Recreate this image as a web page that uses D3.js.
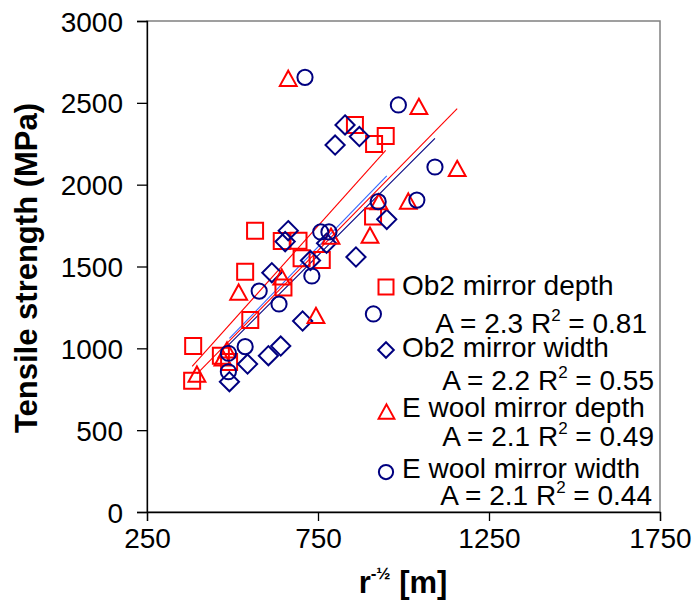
<!DOCTYPE html>
<html>
<head>
<meta charset="utf-8">
<script src="https://cdn.jsdelivr.net/npm/d3@7"></script>
<style>
  html, body { margin: 0; padding: 0; background: #fff; }
  svg { display: block; font-family: "Liberation Sans", Arial, sans-serif; }
</style>
</head>
<body>
<svg id="chart" width="695" height="601"></svg>
<script>
// ---------------- data ----------------
const seriesNames = ["Ob2 mirror depth", "Ob2 mirror width", "E wool mirror depth", "E wool mirror width"];
const seriesA = ["2.3", "2.2", "2.1", "2.1"];
const seriesR2 = ["0.81", "0.55", "0.49", "0.44"];
// slope of trend lines y = A * x
const trendSlope = [2.33, 2.16, 2.13, 2.09];

const ob2DepthX = [385, 382, 466, 490, 552, 537, 566, 649, 644, 693, 702, 761, 858, 948, 914, 911];
const ob2DepthY = [1014, 802, 955, 917, 1173, 1468, 1719, 1372, 1656, 1658, 1550, 1540, 2365, 2297, 2248, 1806];

const ob2WidthX = [491, 544, 605, 641, 705, 615, 663, 654, 728, 775, 861, 951, 829, 871, 800];
const ob2WidthY = [796, 904, 955, 1014, 1167, 1462, 1719, 1652, 1537, 1642, 1558, 1788, 2365, 2294, 2242];

const eDepthX = [396, 484, 472, 518, 644, 744, 663, 788, 902, 928, 1014, 1045, 1157];
const eDepthY = [843, 990, 941, 1344, 1436, 1201, 2650, 1686, 1692, 1896, 1900, 2478, 2100];

const eWidthX = [488, 488, 537, 578, 636, 732, 758, 782, 712, 926, 1039, 1092, 985, 912];
const eWidthY = [970, 857, 1010, 1350, 1271, 1442, 1711, 1711, 2656, 1896, 1906, 2108, 2487, 1210];

const xTicks = [250, 750, 1250, 1750];
const yTicks = [0, 500, 1000, 1500, 2000, 2500, 3000];

// ---------------- layout ----------------
const svg = d3.select("#chart");
const L = 147, R = 660, T = 21, B = 512;
const x = d3.scaleLinear().domain([250, 1750]).range([L, R]);
const y = d3.scaleLinear().domain([0, 3000]).range([B, T]);

const RED = "#ff0000", NAVY = "#000080", BLUE = "#3366ff";
const seriesX = [ob2DepthX, ob2WidthX, eDepthX, eWidthX];
const seriesY = [ob2DepthY, ob2WidthY, eDepthY, eWidthY];
const markerColor = [RED, NAVY, RED, NAVY];
const lineColor = [RED, BLUE, RED, NAVY];
const shapes = ["square", "diamond", "triangle", "circle"];

function shapePath(shape, s) {
  const h = s / 2;
  if (shape === "square") return `M${-h},${-h}H${h}V${h}H${-h}Z`;
  if (shape === "diamond") { const d = h * 1.2; return `M0,${-d}L${d},0L0,${d}L${-d},0Z`; }
  if (shape === "triangle") { const w = h * 1.05, ht = h * 0.95; return `M0,${-ht}L${w},${ht}L${-w},${ht}Z`; }
  if (shape === "circle") { const r = h * 0.95; return `M${r},0A${r},${r} 0 1,1 ${-r},0A${r},${r} 0 1,1 ${r},0Z`; }
}

// plot border (gray)
svg.append("rect").attr("x", L).attr("y", T).attr("width", R - L).attr("height", B - T)
  .attr("fill", "none").attr("stroke", "#808080").attr("stroke-width", 1.5);

// axes
const xAxis = d3.axisBottom(x).tickValues(xTicks).tickSize(9).tickPadding(27).tickFormat(d3.format("d"));
const yAxis = d3.axisLeft(y).tickValues(yTicks).tickSize(10).tickPadding(14).tickFormat(d3.format("d"));

const gx = svg.append("g").attr("transform", `translate(0,${B})`).call(xAxis);
const gy = svg.append("g").attr("transform", `translate(${L},0)`).call(yAxis);
[gx, gy].forEach(g => {
  g.select(".domain").attr("stroke", "#000").attr("stroke-width", 1.3);
  g.selectAll(".tick line").attr("stroke", "#000").attr("stroke-width", 1.3);
  g.selectAll(".tick text").attr("fill", "#000").attr("font-size", 28)
    .attr("font-family", '"Liberation Sans", Arial, sans-serif');
});
gx.selectAll(".tick text").attr("dy", "0");
gy.selectAll(".tick text").attr("dy", "0.36em");

// trend lines
const trend = svg.append("g");
seriesX.forEach((xs, i) => {
  const [x0, x1] = d3.extent(xs);
  trend.append("line")
    .attr("x1", x(x0)).attr("y1", y(trendSlope[i] * x0))
    .attr("x2", x(x1)).attr("y2", y(trendSlope[i] * x1))
    .attr("stroke", lineColor[i]).attr("stroke-width", 1.1);
});

// markers
seriesX.forEach((xs, i) => {
  svg.append("g").selectAll("path").data(xs.map((v, k) => [v, seriesY[i][k]])).join("path")
    .attr("transform", d => `translate(${x(d[0])},${y(d[1])})`)
    .attr("d", shapePath(shapes[i], 16))
    .attr("fill", "none").attr("stroke", markerColor[i]).attr("stroke-width", 2);
});

// legend
const legMarker = [[386, 287], [386, 350], [386.5, 411.5], [386, 472]];
const legNameY = [295, 357, 417, 478];
const legEqX = [647, 654, 654, 652];
const legEqY = [333, 390, 446, 505];
const leg = svg.append("g");
seriesNames.forEach((name, i) => {
  leg.append("path")
    .attr("transform", `translate(${legMarker[i][0]},${legMarker[i][1]})`)
    .attr("d", shapePath(shapes[i], i === 1 ? 13 : 15))
    .attr("fill", "none").attr("stroke", markerColor[i]).attr("stroke-width", 2);
  leg.append("text").attr("x", 402).attr("y", legNameY[i])
    .attr("font-size", 28).attr("fill", "#000").text(name);
  const t = leg.append("text").attr("x", legEqX[i]).attr("y", legEqY[i])
    .attr("font-size", 28).attr("fill", "#000").attr("text-anchor", "end");
  t.append("tspan").text(`A = ${seriesA[i]} R`);
  t.append("tspan").attr("font-size", 17).attr("dy", -12).text("2");
  t.append("tspan").attr("dy", 12).text(` = ${seriesR2[i]}`);
});

// axis titles
svg.append("text")
  .attr("transform", `translate(37,268) rotate(-90)`)
  .attr("text-anchor", "middle").attr("font-size", 31).attr("font-weight", "bold")
  .attr("fill", "#000").text("Tensile strength (MPa)");

const xt = svg.append("text").attr("x", 403).attr("y", 593).attr("text-anchor", "middle")
  .attr("font-size", 31).attr("font-weight", "bold").attr("fill", "#000");
xt.append("tspan").text("r");
xt.append("tspan").attr("font-size", 17).attr("dy", -14).text("-½");
xt.append("tspan").attr("dy", 14).text(" [m]");
</script>
</body>
</html>
